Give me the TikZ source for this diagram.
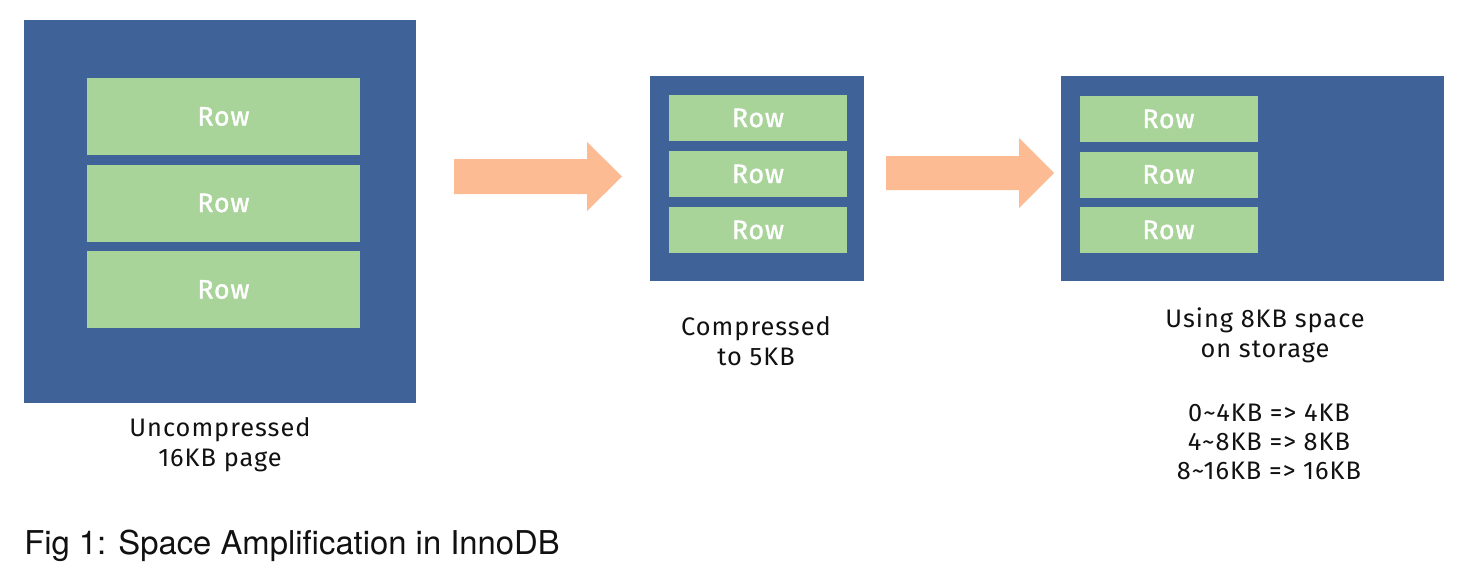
\documentclass[tikz,border=0pt]{standalone}
\usepackage{fontspec}
\setmainfont{Fira Sans}
\newfontfamily\capfont{TeX Gyre Heros}
\usetikzlibrary{fit}
\definecolor{pageblue}{HTML}{3F6299}
\definecolor{rowgreen}{HTML}{A8D399}
\definecolor{arroworange}{HTML}{FDBB93}
\definecolor{labeltext}{HTML}{111111}
\begin{document}
\begin{tikzpicture}[x=0.75pt,y=-0.75pt,
  page/.style={fill=pageblue, draw=none, inner sep=0pt},
  rowbox/.style={fill=rowgreen, draw=none, text=white, inner sep=0pt,
    font=\fontsize{20}{22}\selectfont\addfontfeature{LetterSpace=3,FakeBold=1.3}},
  bigrow/.style={rowbox, minimum width=204.75pt, minimum height=57.75pt},
  smallrow/.style={rowbox, minimum width=133.5pt, minimum height=34.5pt},
  lbl/.style={align=center, text=labeltext, inner sep=0pt, anchor=base,
    font=\fontsize{19}{22.5}\selectfont\addfontfeature{LetterSpace=4}},
  blockarrow/.style={fill=arroworange, draw=none}
]
\fill[white] (0,0) rectangle (1478,578);
\useasboundingbox (0,0) rectangle (1478,578);

% pages
\node[page, fit={(24,20)(416,403)}] (p1) {};
\node[page, fit={(650,76)(864,281)}] (p2) {};
\node[page, fit={(1061,76)(1444,281)}] (p3) {};

% rows, page 1
\node[bigrow] (r11) at (223.5,116.5) {Row};
\node[bigrow] (r12) at (223.5,203) {Row};
\node[bigrow] (r13) at (223.5,289.5) {Row};
% rows, page 2
\node[smallrow] (r21) at (758,118) {Row};
\node[smallrow] (r22) at (758,174) {Row};
\node[smallrow] (r23) at (758,230) {Row};
% rows, page 3
\node[smallrow] (r31) at (1168.5,119) {Row};
\node[smallrow] (r32) at (1168.5,174.5) {Row};
\node[smallrow] (r33) at (1168.5,230) {Row};

% block arrows
\fill[blockarrow] (454,159) -- (587,159) -- (587,142) -- (622,176.5)
  -- (587,211) -- (587,194) -- (454,194) -- cycle;
\fill[blockarrow] (886,156) -- (1019,156) -- (1019,138) -- (1054,173)
  -- (1019,208) -- (1019,190) -- (886,190) -- cycle;

% labels (base anchor = baseline of the last line)
\node[lbl] (l1) at (220,466) {Uncompressed\\16KB page};
\node[lbl] (l2) at (756,365) {Compressed\\to 5KB};
\node[lbl] (l3) at (1265,357) {Using 8KB space\\on storage};
\node[lbl, font=\fontsize{19}{21.75}\selectfont\addfontfeature{LetterSpace=4}] (l4) at (1269,479)
  {0\textasciitilde 4KB => 4KB\\4\textasciitilde 8KB => 8KB\\8\textasciitilde 16KB => 16KB};

% caption
\node[anchor=base west, inner sep=0pt, text=labeltext,
  font=\capfont\fontsize{24.6}{28}\selectfont] (cap) at (24,554)
  {Fig 1: Space Amplification in InnoDB};
\end{tikzpicture}
\end{document}
